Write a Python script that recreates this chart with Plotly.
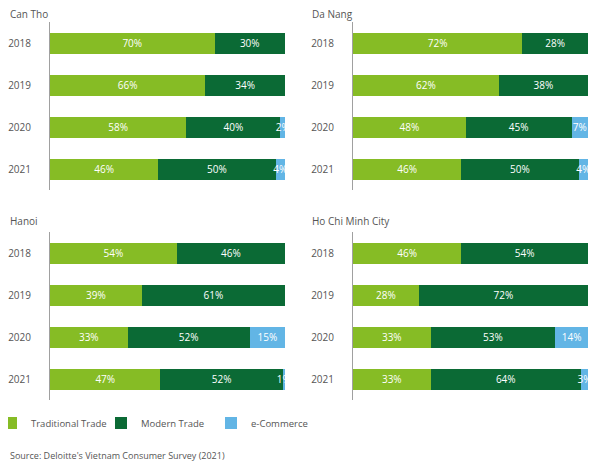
import plotly.graph_objects as go

years = ["2018", "2019", "2020", "2021"]
cities = ["Can Tho", "Da Nang", "Hanoi", "Ho Chi Minh City"]

# share of channel per city, per year (%)
traditional = {
    "Can Tho": [70, 66, 58, 46],
    "Da Nang": [72, 62, 48, 46],
    "Hanoi": [54, 39, 33, 47],
    "Ho Chi Minh City": [46, 28, 33, 33],
}
modern = {
    "Can Tho": [30, 34, 40, 50],
    "Da Nang": [28, 38, 45, 50],
    "Hanoi": [46, 61, 52, 52],
    "Ho Chi Minh City": [54, 72, 53, 64],
}
ecommerce = {
    "Can Tho": [0, 0, 2, 4],
    "Da Nang": [0, 0, 7, 4],
    "Hanoi": [0, 0, 15, 1],
    "Ho Chi Minh City": [0, 0, 14, 3],
}

channels = [
    ("Traditional Trade", traditional, "#86BC25"),
    ("Modern Trade", modern, "#0B6A35"),
    ("e-Commerce", ecommerce, "#62B5E5"),
]

# the page body keeps an 8px margin, so the figure starts 8px in from the window corner
OFF = 8
W, H = 600 - OFF, 467 - OFF
MB = 50  # bottom margin: legend and source sit below the plot area
PH = H - MB


def px(x):
    return (x - OFF) / W


def py(y):
    return 1 - (y - OFF) / PH


# panel boxes in window pixels: (left, right, top, bottom)
boxes = [(50, 285, 22, 190), (353, 588, 22, 190),
         (50, 285, 232, 400), (353, 588, 232, 400)]
title_pos = [(8, 14), (310, 14), (8, 221), (310, 221)]

grey = "#555555"
font = "Open Sans, sans-serif"

fig = go.Figure()
for i, city in enumerate(cities):
    n = "" if i == 0 else str(i + 1)
    for name, data, color in channels:
        vals = data[city]
        fig.add_trace(go.Bar(
            y=years, x=vals, orientation="h", name=name,
            marker=dict(color=color, line=dict(width=0)),
            text=[f"{v}%" if v > 0 else "" for v in vals],
            textposition="inside", insidetextanchor="middle",
            constraintext="none", textangle=0, cliponaxis=False,
            textfont=dict(color="white", size=10, family=font),
            xaxis="x" + n, yaxis="y" + n,
            showlegend=(i == 0), legendgroup=name,
            hoverinfo="skip",
        ))
    l, r, t, b = boxes[i]
    fig.layout["xaxis" + n] = dict(
        domain=[px(l), px(r)], range=[0, 100], visible=False,
        anchor="y" + n, fixedrange=True, automargin=False,
    )
    fig.layout["yaxis" + n] = dict(
        domain=[py(b), py(t)], anchor="x" + n,
        categoryorder="array", categoryarray=years, autorange="reversed",
        showline=True, linecolor="#a0a0a0", linewidth=1,
        showgrid=False, zeroline=False, ticks="",
        ticklabelstandoff=16, automargin=False, fixedrange=True,
        tickfont=dict(size=10, color=grey, family=font),
    )
    tx, ty = title_pos[i]
    fig.add_annotation(
        text=city, x=px(tx), y=py(ty), xref="paper", yref="paper",
        xanchor="left", yanchor="middle", showarrow=False,
        font=dict(size=10, color=grey, family=font),
    )

fig.add_annotation(
    text="Source: Deloitte's Vietnam Consumer Survey (2021)",
    x=px(8), y=py(455), xref="paper", yref="paper",
    xanchor="left", yanchor="middle", showarrow=False,
    font=dict(size=9, color=grey, family=font),
)

fig.update_layout(
    width=W, height=H, barmode="stack", bargap=0.5,
    margin=dict(l=0, r=0, t=0, b=MB, autoexpand=False),
    paper_bgcolor="white", plot_bgcolor="white",
    font=dict(family=font, color=grey),
    legend=dict(
        orientation="h", x=px(-9), y=py(423), xanchor="left", yanchor="middle",
        font=dict(size=9.5, color=grey, family=font),
        itemwidth=30, entrywidth=65,
        itemclick=False, itemdoubleclick=False,
    ),
)

fig.write_html("out.html")
